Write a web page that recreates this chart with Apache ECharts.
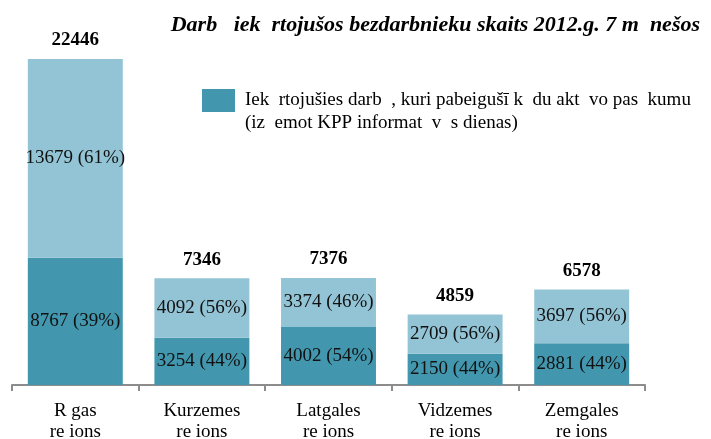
<!DOCTYPE html>
<html>
<head>
<meta charset="utf-8">
<script src="https://cdn.jsdelivr.net/npm/echarts@6/dist/echarts.min.js"></script>
<style>
  html, body { margin: 0; padding: 0; background: #fff; }
  #chart { width: 711px; height: 439px; }
</style>
</head>
<body>
<div id="chart"></div>
<script>
    var categories = ['R gas\nre ions', 'Kurzemes\nre ions', 'Latgales\nre ions', 'Vidzemes\nre ions', 'Zemgales\nre ions'];
    var kppEmployed = [8767, 3254, 4002, 2150, 2881];
    var kppPct = ['39%', '44%', '54%', '44%', '44%'];
    var otherEmployed = [13679, 4092, 3374, 2709, 3697];
    var otherPct = ['61%', '56%', '46%', '56%', '56%'];
    var totals = [22446, 7346, 7376, 4859, 6578];

    var legendName = 'Iek  rtojušies darb  , kuri pabeigušī k  du akt  vo pas  kumu\n(iz  emot KPP informat  v  s dienas)';
    var serif = '"Liberation Serif", "DejaVu Serif", serif';

    var chart = echarts.init(document.getElementById('chart'));
    var option = {
        animation: false,
        title: {
            text: 'Darb   iek  rtojušos bezdarbnieku skaits 2012.g. 7 m  nešos',
            right: 6,
            top: 9,
            textStyle: {
                fontFamily: serif,
                fontStyle: 'italic',
                fontWeight: 'bold',
                fontSize: 22,
                color: '#000'
            }
        },
        legend: {
            data: [legendName],
            left: 202,
            top: 89,
            padding: 0,
            itemWidth: 33,
            itemHeight: 46,
            // square sits on the first text line: the tiny second subpath stretches the box to two lines
            icon: 'path://M0,0H33V23H0Z M0,46h0.01v0.01h-0.01Z',
            textStyle: {
                fontFamily: serif,
                fontSize: 19,
                lineHeight: 23,
                color: '#000',
                padding: [0, 0, 0, 5]
            }
        },
        grid: {
            left: 12,
            right: 66,
            top: 36.5,
            bottom: 54,
            outerBoundsMode: 'none'
        },
        xAxis: {
            type: 'category',
            data: categories,
            axisLine: { lineStyle: { color: '#8c8c8c', width: 2 } },
            axisTick: { show: true, length: 6, lineStyle: { color: '#8c8c8c', width: 2 } },
            axisLabel: {
                margin: 16,
                fontFamily: serif,
                fontSize: 19,
                lineHeight: 21,
                color: '#000'
            }
        },
        yAxis: {
            type: 'value',
            min: 0,
            max: 24000,
            show: false,
            splitLine: { show: false }
        },
        series: [{
            name: legendName,
            type: 'bar',
            stack: 'total',
            barWidth: '75%',
            data: kppEmployed,
            itemStyle: { color: '#4297ae' },
            label: {
                show: true,
                position: 'inside',
                fontFamily: serif,
                fontSize: 19,
                color: '#111',
                formatter: function (p) {
                    return p.value + ' (' + kppPct[p.dataIndex] + ')';
                }
            }
        }, {
            name: 'other',
            type: 'bar',
            stack: 'total',
            data: otherEmployed,
            itemStyle: { color: '#93c4d5' },
            label: {
                show: true,
                position: 'inside',
                fontFamily: serif,
                fontSize: 19,
                color: '#111',
                formatter: function (p) {
                    return p.value + ' (' + otherPct[p.dataIndex] + ')';
                }
            }
        }, {
            // invisible series to carry the totals above the bars
            name: 'totals',
            type: 'bar',
            stack: 'total',
            data: totals.map(function () { return 0; }),
            itemStyle: { color: 'transparent' },
            label: {
                show: true,
                position: 'top',
                distance: 9,
                fontFamily: serif,
                fontWeight: 'bold',
                fontSize: 19,
                color: '#000',
                formatter: function (p) {
                    return totals[p.dataIndex];
                }
            }
        }]
    };
    chart.setOption(option);
</script>
</body>
</html>
